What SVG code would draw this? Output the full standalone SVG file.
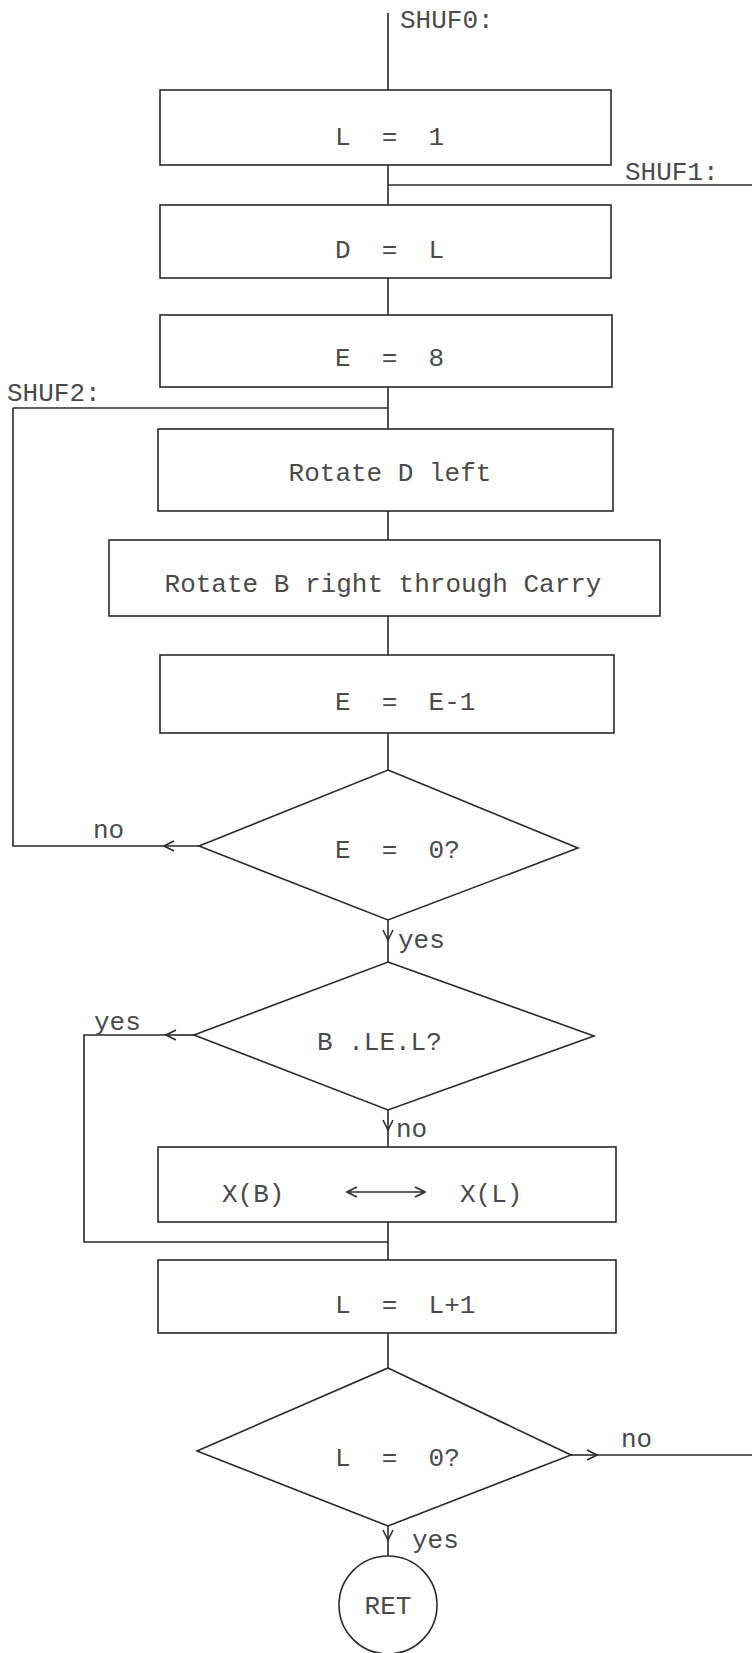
<svg xmlns="http://www.w3.org/2000/svg" width="752" height="1653" viewBox="0 0 752 1653">
<style>
.box{fill:#fff;stroke:#2a2a2a;stroke-width:1.6}
.ln{fill:none;stroke:#2a2a2a;stroke-width:1.6}
.t{font-family:"Liberation Mono","DejaVu Sans Mono",monospace;font-size:26px;fill:#4a4a4a;white-space:pre}
.m{text-anchor:middle}
</style>
<defs>
<marker id="ah" viewBox="0 0 12 12" refX="11" refY="6" markerWidth="12" markerHeight="12" markerUnits="userSpaceOnUse" orient="auto-start-reverse">
<path d="M1,1 L11,6 L1,11" fill="none" stroke="#2a2a2a" stroke-width="1.6"/>
</marker>
</defs>
<rect width="752" height="1653" fill="#fff"/>
<g id="connectors">
<path class="ln" d="M388,13 V90"/>
<path class="ln" d="M388,165 V205"/>
<path class="ln" d="M388,185 H752"/>
<path class="ln" d="M388,278 V315"/>
<path class="ln" d="M388,387 V429"/>
<path class="ln" d="M13,408 H388"/>
<path class="ln" d="M388,511 V540"/>
<path class="ln" d="M388,616 V655"/>
<path class="ln" d="M388,733 V770"/>
<path class="ln" d="M199,846 H164" marker-end="url(#ah)"/>
<path class="ln" d="M164,846 H13 V408"/>
<path class="ln" d="M388,920 V940" marker-end="url(#ah)"/>
<path class="ln" d="M388,940 V962"/>
<path class="ln" d="M194,1035 H166" marker-end="url(#ah)"/>
<path class="ln" d="M166,1035 H84 V1242 H388"/>
<path class="ln" d="M388,1110 V1130" marker-end="url(#ah)"/>
<path class="ln" d="M388,1130 V1147"/>
<path class="ln" d="M388,1222 V1260"/>
<path class="ln" d="M388,1333 V1368"/>
<path class="ln" d="M571,1455 H597" marker-end="url(#ah)"/>
<path class="ln" d="M597,1455 H752"/>
<path class="ln" d="M388,1526 V1540" marker-end="url(#ah)"/>
<path class="ln" d="M388,1540 V1556"/>
</g>
<g id="labels">
<text class="t" x="400" y="28">SHUF0:</text>
<text class="t" x="625" y="180">SHUF1:</text>
<text class="t" x="7" y="401">SHUF2:</text>
<text class="t" x="93" y="838">no</text>
<text class="t" x="398" y="948">yes</text>
<text class="t" x="94" y="1030">yes</text>
<text class="t" x="396" y="1137">no</text>
<text class="t" x="621" y="1447">no</text>
<text class="t" x="412" y="1548">yes</text>
</g>
<g id="n1"><rect class="box" x="160" y="90" width="451" height="75"/><text class="t" x="335" y="145">L  =  1</text></g>
<g id="n2"><rect class="box" x="160" y="205" width="451" height="73"/><text class="t" x="335" y="258">D  =  L</text></g>
<g id="n3"><rect class="box" x="160" y="315" width="452" height="72"/><text class="t" x="335" y="366">E  =  8</text></g>
<g id="n4"><rect class="box" x="158" y="429" width="455" height="82"/><text class="t m" x="390" y="481">Rotate D left</text></g>
<g id="n5"><rect class="box" x="109" y="540" width="551" height="76"/><text class="t m" x="383" y="592">Rotate B right through Carry</text></g>
<g id="n6"><rect class="box" x="160" y="655" width="454" height="78"/><text class="t" x="335" y="710">E  =  E-1</text></g>
<g id="n7"><polygon class="box" points="388,770 578,848 388,920 199,846"/><text class="t" x="335" y="858">E  =  0?</text></g>
<g id="n8"><polygon class="box" points="388,962 594,1036 388,1110 194,1035"/><text class="t" x="317" y="1050">B .LE.L?</text></g>
<g id="n9"><rect class="box" x="158" y="1147" width="458" height="75"/><text class="t" x="222" y="1202">X(B)</text><text class="t" x="460" y="1202">X(L)</text><path class="ln" d="M347,1192 H425" marker-start="url(#ah)" marker-end="url(#ah)"/></g>
<g id="n10"><rect class="box" x="158" y="1260" width="458" height="73"/><text class="t" x="335" y="1313">L  =  L+1</text></g>
<g id="n11"><polygon class="box" points="388,1368 571,1455 388,1526 197,1451"/><text class="t" x="335" y="1466">L  =  0?</text></g>
<g id="n12"><circle class="box" cx="388" cy="1605" r="49"/><text class="t m" x="388" y="1614">RET</text></g>
</svg>
